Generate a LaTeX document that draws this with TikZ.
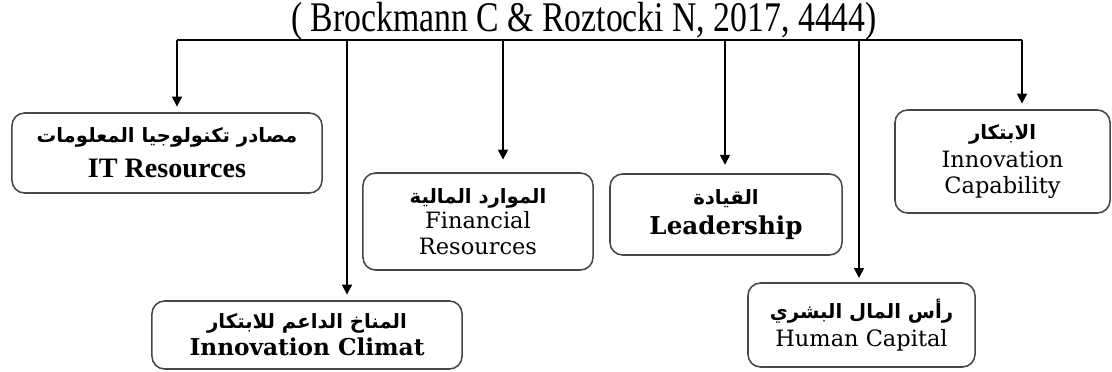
\documentclass[tikz,border=0pt]{standalone}
\usepackage{fontspec}
\setmainfont{Liberation Serif}
\newfontfamily\slabfont{DejaVu Serif}
\newfontfamily\arabicfont[Script=Arabic]{DejaVu Sans}
\TeXXeTstate=1
\usetikzlibrary{arrows.meta, positioning, calc}
\newcommand{\artext}[1]{{\arabicfont\bfseries\fontsize{14}{18}\selectfont\beginR #1\endR}}
\tikzset{
  factor/.style={draw=gray!55!black, line width=1.1pt, rounded corners=9pt, align=center, inner sep=0pt, fill=white},
  feed/.style={line width=1.2pt, -{Triangle[width=7pt,length=7pt]}, shorten >=4pt},
  bus/.style={line width=1.2pt},
  boldlabel/.style={font=\bfseries\fontsize{20}{23}\selectfont},
  slablabel/.style={font=\slabfont\fontsize{16}{18}\selectfont},
}
\begin{document}
\begin{tikzpicture}[x=0.025cm, y=-0.025cm]
\useasboundingbox (0,0) rectangle (1112,372);

\node[anchor=base] (src) at (584,32) {\scalebox{1}[1.25]{\fontsize{24}{24}\selectfont ( Brockmann C \& Roztocki N, 2017, 4444)}};

% the six factors
\node[factor, boldlabel, minimum width=7.75cm, minimum height=2cm] (it) at (167,153) {\artext{مصادر تكنولوجيا المعلومات}\\[2pt] IT Resources};
\node[factor, slablabel, minimum width=5.75cm, minimum height=2.425cm] (fin) at (478,221.5) {\artext{الموارد المالية}\\ Financial\\ Resources};
\node[factor, font=\slabfont\bfseries\fontsize{17.5}{21}\selectfont, minimum width=5.8cm, minimum height=2.025cm] (lead) at (726,214.5) {\artext{القيادة}\\ Leadership};
\node[factor, slablabel, minimum width=5.375cm, minimum height=2.575cm] (cap) at (1002.5,161.5) {\artext{الابتكار}\\[2pt] Innovation\\ Capability};
\node[factor, font=\slabfont\bfseries\fontsize{16.5}{19}\selectfont, minimum width=7.75cm, minimum height=1.7cm] (clim) at (307,335) {\artext{المناخ الداعم للابتكار}\\ Innovation Climat};
\node[factor, slablabel, minimum width=5.675cm, minimum height=2.1cm] (hum) at (861.5,325) {\artext{رأس المال البشري}\\[2pt] Human Capital};

% the bus and its drops
\coordinate (b1) at (177,40);
\coordinate (b2) at (347,40);
\coordinate (b3) at (503,40);
\coordinate (b4) at (725,40);
\coordinate (b5) at (859,40);
\coordinate (b6) at (1022,40);
\draw[bus] (b1) -- (b6);
\draw[feed] (b1) -- (b1 |- it.north);
\draw[feed] (b2) -- (b2 |- clim.north);
\draw[feed, shorten >=9pt] (b3) -- (b3 |- fin.north);
\draw[feed, shorten >=6pt] (b4) -- (b4 |- lead.north);
\draw[feed, shorten >=3pt] (b5) -- (b5 |- hum.north);
\draw[feed] (b6) -- (b6 |- cap.north);

\end{tikzpicture}
\end{document}
